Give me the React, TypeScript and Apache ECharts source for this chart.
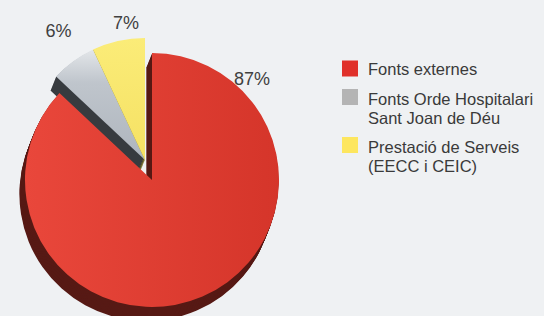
import React, { useEffect, useRef } from "react";
import * as echarts from "echarts";

// ---- data ----
const categories = [
  "Fonts externes",
  "Fonts Orde Hospitalari\nSant Joan de Déu",
  "Prestació de Serveis\n(EECC i CEIC)",
];
const shares = [87, 6, 7];
const exploded = [false, true, true];

// ---- style ----
const FONT = "'Liberation Sans', Arial, Helvetica, sans-serif";
const BG = "#eff1f3";
const faceColors: any[] = [
  new echarts.graphic.LinearGradient(0, 0, 1, 0, [
    { offset: 0, color: "#e9473b" },
    { offset: 1, color: "#d5352a" },
  ]),
  new echarts.graphic.LinearGradient(0, 0, 0, 1, [
    { offset: 0, color: "#e3e6e9" },
    { offset: 0.3, color: "#bfc5cc" },
    { offset: 1, color: "#aeb5bd" },
  ]),
  new echarts.graphic.LinearGradient(0, 0, 0, 1, [
    { offset: 0, color: "#fbec78" },
    { offset: 1, color: "#f5e163" },
  ]),
];
const sideColors = ["#571a15", "#373b3f", "#8d8124"];
const legendColors = ["#e0302a", "#b4b4b4", "#fde65e"];
const LABEL_POS = [
  [252, 79],
  [58.5, 31],
  [126, 23],
];
const LEGEND_TOPS = [59, 89, 137];
const LEGEND_FONT = 16.5;
const LEGEND_LINE = 19;

const CENTER = [152, 180];
const RADIUS = 127;
const EXP_CENTER = [145, 160];
const EXP_RADIUS = 122;
const DEPTH = 14;

const TRANSPARENT = "rgba(0,0,0,0)";

function pieBase(center: number[], radius: number) {
  return {
    type: "pie",
    center,
    radius,
    startAngle: 90,
    clockwise: true,
    avoidLabelOverlap: false,
    silent: true,
    animation: false,
    emphasis: { disabled: true },
    labelLine: { show: false },
  };
}

function makeData(colors: any[], group: boolean, withLabels: boolean) {
  return categories.map((name, i) => {
    const visible = exploded[i] === group;
    return {
      name,
      value: shares[i],
      itemStyle: { color: visible ? colors[i] : TRANSPARENT, borderWidth: 0 },
      label: { show: withLabels && visible },
    };
  });
}

function buildOption() {
  const series: any[] = [];
  const groups = [false, true];
  for (const g of groups) {
    const c = g ? EXP_CENTER : CENTER;
    const r = g ? EXP_RADIUS : RADIUS;
    for (let k = DEPTH; k >= 1; k--) {
      series.push({
        ...pieBase([c[0] - 0.4 * k, c[1] + k], r),
        label: { show: false },
        data: makeData(sideColors, g, false),
      });
    }
  }
  for (const g of groups) {
    const c = g ? EXP_CENTER : CENTER;
    const r = g ? EXP_RADIUS : RADIUS;
    series.push({
      ...pieBase(c, r),
      label: {
        show: true,
        position: "outside",
        formatter: "{d}%",
        fontSize: 18,
        color: "#404040",
        fontFamily: FONT,
      },
      percentPrecision: 0,
      labelLayout: (p: any) => ({
        x: LABEL_POS[p.dataIndex][0],
        y: LABEL_POS[p.dataIndex][1],
        align: "center",
        verticalAlign: "middle",
      }),
      data: makeData(faceColors, g, true),
    });
  }

  const legend = categories.map((name, i) => {
    const twoLines = name.includes("\n");
    const h = twoLines ? LEGEND_LINE * 2 : 16;
    return {
      data: [{ name, itemStyle: { color: legendColors[i], borderWidth: 0 } }],
      left: 342,
      top: LEGEND_TOPS[i],
      orient: "vertical",
      // square at the top of the item box, so it lines up with the first text line
      icon: twoLines ? `path://M0,0H16V16H0Z M0,${h}L0.01,${h}` : "rect",
      itemWidth: 16,
      itemHeight: h,
      padding: 0,
      selectedMode: false,
      textStyle: {
        fontSize: LEGEND_FONT,
        lineHeight: LEGEND_LINE,
        color: "#3a3a3a",
        fontFamily: FONT,
        padding: [0, 0, 0, 5],
      },
    };
  });

  return {
    animation: false,
    backgroundColor: BG,
    legend,
    series,
  };
}

export default function App() {
  const ref = useRef<HTMLDivElement>(null);
  useEffect(() => {
    if (!ref.current) return;
    const chart = echarts.init(ref.current, undefined, { renderer: "svg" });
    chart.setOption(buildOption() as any);
    return () => chart.dispose();
  }, []);
  return (
    <div
      ref={ref}
      style={{ position: "fixed", left: 0, top: 0, width: 544, height: 316 }}
    />
  );
}
